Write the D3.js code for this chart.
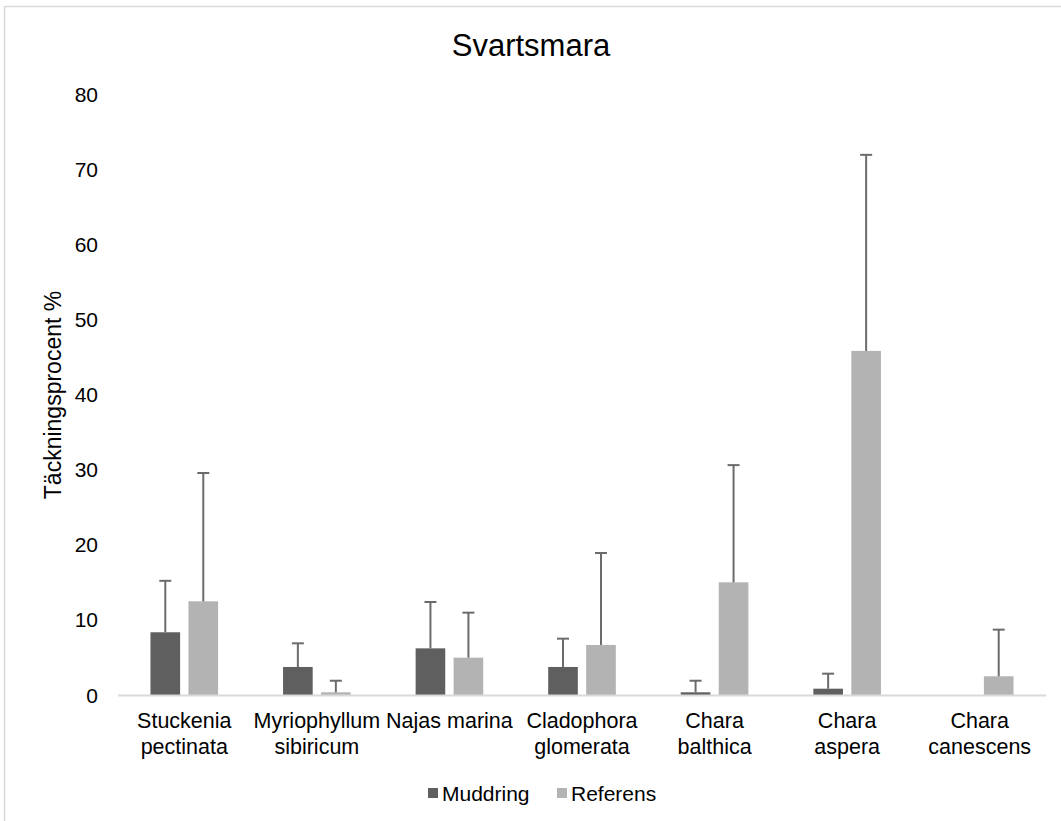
<!DOCTYPE html>
<html>
<head>
<meta charset="utf-8">
<script src="https://cdn.jsdelivr.net/npm/d3@7"></script>
<style>
  body { margin: 0; background: #fff; }
  text { font-family: "Liberation Sans", Arial, sans-serif; fill: #000; }
</style>
</head>
<body>
<script>
// data
var species = ["Stuckenia pectinata", "Myriophyllum sibiricum", "Najas marina",
               "Cladophora glomerata", "Chara balthica", "Chara aspera", "Chara canescens"];
var speciesLines = [["Stuckenia", "pectinata"], ["Myriophyllum", "sibiricum"], ["Najas marina"],
                    ["Cladophora", "glomerata"], ["Chara", "balthica"], ["Chara", "aspera"], ["Chara", "canescens"]];
var seriesNames = ["Muddring", "Referens"];
var muddring = [8.35, 3.73, 6.21, 3.73, 0.36, 0.84, 0];
var muddringErr = [15.2, 6.88, 12.38, 7.5, 1.9, 2.84, null];
var referens = [12.47, 0.36, 4.97, 6.66, 15.0, 45.8, 2.49];
var referensErr = [29.55, 1.9, 10.96, 18.9, 30.6, 71.9, 8.7];
var yTicks = [0, 10, 20, 30, 40, 50, 60, 70, 80];
var colors = ["#5f5f5f", "#b3b3b3"];

var width = 1061, height = 821;
var margin = {top: 94, right: 15, bottom: 126, left: 118};
var plotW = width - margin.left - margin.right,
    plotH = height - margin.top - margin.bottom;

var svg = d3.select("body").append("svg")
    .attr("width", width)
    .attr("height", height);

// chart border
svg.append("rect")
    .attr("x", 4.5).attr("y", 6.5)
    .attr("width", width + 10).attr("height", height + 10)
    .attr("fill", "none")
    .attr("stroke", "#d9d9d9")
    .attr("stroke-width", 1.5);

var g = svg.append("g")
    .attr("transform", "translate(" + margin.left + "," + margin.top + ")");

var xScale = d3.scaleBand().domain(species).range([0, plotW]);
var inner = d3.scaleBand().domain(seriesNames)
    .range([xScale.bandwidth() * 0.245, xScale.bandwidth() * 0.755])
    .paddingInner(0.22);
var yScale = d3.scaleLinear().domain([0, 80]).range([plotH, 0]);

// title
svg.append("text")
    .attr("x", 531).attr("y", 56)
    .attr("text-anchor", "middle")
    .style("font-size", "31px")
    .text("Svartsmara");

// y tick labels (no gridlines)
g.selectAll(".ytick")
    .data(yTicks)
  .enter().append("text")
    .attr("class", "ytick")
    .attr("x", -20)
    .attr("y", function(d) { return yScale(d); })
    .attr("dy", "0.36em")
    .attr("text-anchor", "end")
    .style("font-size", "21px")
    .text(function(d) { return d; });

// y axis title
svg.append("text")
    .attr("transform", "translate(61,395) rotate(-90)")
    .attr("text-anchor", "middle")
    .style("font-size", "23px")
    .text("Täckningsprocent %");

var series = [
  {name: seriesNames[0], values: muddring, err: muddringErr, color: colors[0]},
  {name: seriesNames[1], values: referens, err: referensErr, color: colors[1]}
];

// bars
series.forEach(function(s) {
  g.selectAll(".bar-" + s.name)
      .data(species)
    .enter().append("rect")
      .attr("x", function(d) { return xScale(d) + inner(s.name); })
      .attr("width", inner.bandwidth())
      .attr("y", function(d, i) { return yScale(s.values[i]); })
      .attr("height", function(d, i) { return plotH - yScale(s.values[i]); })
      .attr("fill", s.color);
});

// x axis line
g.append("line")
    .attr("x1", 0).attr("x2", plotW)
    .attr("y1", plotH + 0.5).attr("y2", plotH + 0.5)
    .attr("stroke", "#d9d9d9")
    .attr("stroke-width", 2);

// error bars (upper only)
series.forEach(function(s) {
  species.forEach(function(d, i) {
    if (s.err[i] == null) return;
    var cx = xScale(d) + inner(s.name) + inner.bandwidth() / 2;
    g.append("line")
        .attr("x1", cx).attr("x2", cx)
        .attr("y1", yScale(s.values[i])).attr("y2", yScale(s.err[i]))
        .attr("stroke", "#6b6b6b").attr("stroke-width", 2);
    g.append("line")
        .attr("x1", cx - 6).attr("x2", cx + 6)
        .attr("y1", yScale(s.err[i])).attr("y2", yScale(s.err[i]))
        .attr("stroke", "#6b6b6b").attr("stroke-width", 2);
  });
});

// category labels
g.selectAll(".xlabel")
    .data(species)
  .enter().append("text")
    .attr("class", "xlabel")
    .attr("text-anchor", "middle")
    .attr("x", function(d) { return xScale(d) + xScale.bandwidth() / 2; })
    .attr("y", plotH + 33)
    .style("font-size", "21.5px")
    .each(function(d, i) {
      var t = d3.select(this);
      speciesLines[i].forEach(function(line, j) {
        t.append("tspan")
          .attr("x", xScale(d) + xScale.bandwidth() / 2)
          .attr("dy", j === 0 ? 0 : 26)
          .text(line);
      });
    });

// legend
var legend = svg.append("g").attr("transform", "translate(428,793)");
var legX = [0, 129];
seriesNames.forEach(function(n, i) {
  legend.append("rect")
      .attr("x", legX[i]).attr("y", -5)
      .attr("width", 10).attr("height", 10)
      .attr("fill", colors[i]);
  legend.append("text")
      .attr("x", legX[i] + 14).attr("y", 0)
      .attr("dy", "0.36em")
      .style("font-size", "21px")
      .text(n);
});
</script>
</body>
</html>
